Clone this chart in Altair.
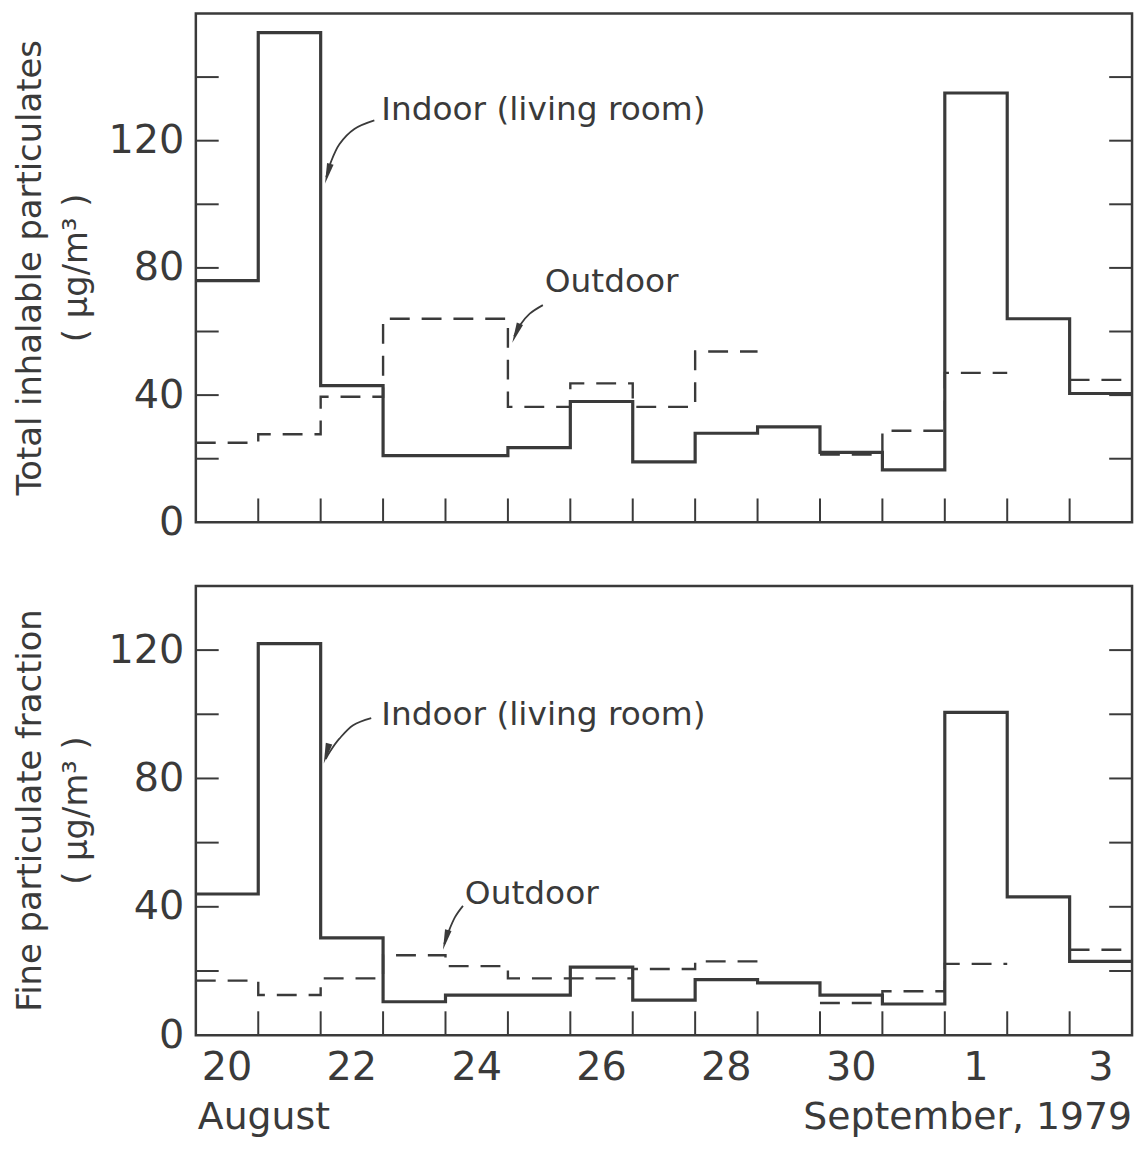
import altair as alt
import pandas as pd

# ---------------- data ----------------
# one sample per day, Aug 20 ... Sep 3, 1979 (15 daily intervals)
DAY_NAMES = ["20", "21", "22", "23", "24", "25", "26", "27", "28", "29", "30", "31", "1", "2", "3"]

TOTAL_INDOOR = [76, 154, 43, 21, 21, 23.5, 38, 19, 28, 30, 22, 16.5, 135, 64, 40.5]
TOTAL_OUTDOOR = [25, 27.7, 39.5, 64, 64, 36.3, 43.7, 36.3, 53.7, None, 21.3, 28.8, 47, None, 44.8]

FINE_INDOOR = [44, 122, 30.3, 10.4, 12.5, 12.5, 21.2, 10.9, 17.3, 16.3, 12.5, 9.7, 100.6, 43.1, 23]
FINE_OUTDOOR = [17, 12.5, 17.7, 24.9, 21.5, 17.7, 17.7, 20.6, 23, None, 10, 13.7, 22.2, None, 26.6]

Y_LABELS = [0, 40, 80, 120]
TOTAL_Y_TICKS = [20, 40, 60, 80, 100, 120, 140]
FINE_Y_TICKS = [20, 40, 60, 80, 100, 120]
TOTAL_Y_MAX = 160
FINE_Y_MAX = 140

# ---------------- styling ----------------
FONT = "DejaVu Sans"
INK = "#3a3a3a"
W = 942
H_TOP = 512
H_BOT = 452
N_DAYS = len(DAY_NAMES)
HEAD = "M0,0 L-0.33,-2 L0.33,-2 Z"  # arrow head, tip at origin, pointing down


def step_rows(values, name):
    rows = []
    run = 0
    k = 0
    n = len(values)
    while k < n:
        if values[k] is None:
            k += 1
            continue
        run += 1
        j = k
        while j < n and values[j] is not None:
            rows.append({"x": j, "y": values[j], "run": f"{name}{run}", "o": len(rows)})
            j += 1
        rows.append({"x": j, "y": values[j - 1], "run": f"{name}{run}", "o": len(rows)})
        k = j
    return pd.DataFrame(rows)


def panel(indoor, outdoor, ymax, h, yticks, titles, notes, arrows, heads, bottom):
    xs = alt.Scale(domain=[0, N_DAYS], nice=False, zero=False)
    ys = alt.Scale(domain=[0, ymax], nice=False, zero=True)
    X = alt.X("x:Q", scale=xs, axis=None)
    Y = alt.Y("y:Q", scale=ys, axis=alt.Axis(
        values=Y_LABELS, ticks=False, domain=False, grid=False,
        labelFont=FONT, labelFontSize=40, labelColor=INK, labelPadding=12, title=None))

    ind = alt.Chart(step_rows(indoor, "in")).mark_line(
        interpolate="step-after", color=INK, strokeWidth=3.2
    ).encode(x=X, y=Y, detail="run:N", order="o:Q")

    out = alt.Chart(step_rows(outdoor, "out")).mark_line(
        interpolate="step-after", color=INK, strokeWidth=2.4, strokeDash=[20, 12]
    ).encode(x=X, y=Y, detail="run:N", order="o:Q")

    ydf = pd.DataFrame({"y": yticks})
    lt = alt.Chart(ydf).mark_rule(color=INK, strokeWidth=2).encode(
        y=Y, x=alt.value(0), x2=alt.value(23))
    rt = alt.Chart(ydf).mark_rule(color=INK, strokeWidth=2).encode(
        y=Y, x=alt.value(W - 23), x2=alt.value(W))
    xt = alt.Chart(pd.DataFrame({"x": list(range(1, N_DAYS))})).mark_rule(color=INK, strokeWidth=2).encode(
        x=X, y=alt.value(h), y2=alt.value(h - 24))

    nt = alt.Chart(pd.DataFrame(notes)).mark_text(
        font=FONT, fontSize=33, align="left", baseline="alphabetic", color=INK
    ).encode(x=X, y=Y, text="t:N")

    ar = alt.Chart(pd.DataFrame(arrows)).mark_line(
        interpolate="cardinal", color=INK, strokeWidth=1.8
    ).encode(x=X, y=Y, detail="id:N", order="o:Q")

    hd = alt.Chart(pd.DataFrame(heads)).mark_point(
        shape=HEAD, filled=True, size=420, color=INK, opacity=1
    ).encode(x=X, y=Y, angle=alt.Angle("a:Q", scale=None))

    t1 = alt.Chart(pd.DataFrame({"t": [titles[0]]})).mark_text(
        font=FONT, fontSize=34, angle=270, align="center", baseline="alphabetic", color=INK
    ).encode(x=alt.value(-156), y=alt.value(h / 2), text="t:N")
    t2 = alt.Chart(pd.DataFrame({"t": [titles[1]]})).mark_text(
        font=FONT, fontSize=34, angle=270, align="center", baseline="alphabetic", color=INK
    ).encode(x=alt.value(-110), y=alt.value(h / 2), text="t:N")

    layers = [ind, out, lt, rt, xt, nt, ar, hd, t1, t2]

    if bottom:
        lab = pd.DataFrame({"x": [k + 0.5 for k in range(0, N_DAYS, 2)],
                            "t": [DAY_NAMES[k] for k in range(0, N_DAYS, 2)]})
        xl = alt.Chart(lab).mark_text(
            font=FONT, fontSize=40, align="center", baseline="alphabetic", color=INK
        ).encode(x=X, y=alt.value(h + 45), text="t:N")
        aug = alt.Chart(pd.DataFrame({"t": ["August"]})).mark_text(
            font=FONT, fontSize=38, align="left", baseline="alphabetic", color=INK
        ).encode(x=alt.value(2), y=alt.value(h + 94), text="t:N")
        sep = alt.Chart(pd.DataFrame({"t": ["September, 1979"]})).mark_text(
            font=FONT, fontSize=38, align="right", baseline="alphabetic", color=INK
        ).encode(x=alt.value(W), y=alt.value(h + 94), text="t:N")
        layers += [xl, aug, sep]

    return alt.layer(*layers).properties(width=W, height=h)


top = panel(
    TOTAL_INDOOR, TOTAL_OUTDOOR, TOTAL_Y_MAX, H_TOP, TOTAL_Y_TICKS,
    ["Total inhalable particulates", "( μg/m³ )"],
    [{"x": 2.97, "y": 126.4, "t": "Indoor  (living room)"},
     {"x": 5.59, "y": 72.5, "t": "Outdoor"}],
    [{"id": "a", "o": 0, "x": 2.86, "y": 126.4}, {"id": "a", "o": 1, "x": 2.54, "y": 123.7},
     {"id": "a", "o": 2, "x": 2.30, "y": 118.9}, {"id": "a", "o": 3, "x": 2.16, "y": 113.1},
     {"id": "a", "o": 4, "x": 2.09, "y": 108.5},
     {"id": "b", "o": 0, "x": 5.56, "y": 68.3}, {"id": "b", "o": 1, "x": 5.35, "y": 65.6},
     {"id": "b", "o": 2, "x": 5.19, "y": 61.9}, {"id": "b", "o": 3, "x": 5.10, "y": 58.5}],
    [{"x": 2.07, "y": 106.5, "a": 15}, {"x": 5.07, "y": 56.5, "a": 22}],
    False)

bot = panel(
    FINE_INDOOR, FINE_OUTDOOR, FINE_Y_MAX, H_BOT, FINE_Y_TICKS,
    ["Fine particulate fraction", "( μg/m³ )"],
    [{"x": 2.97, "y": 96.6, "t": "Indoor (living room)"},
     {"x": 4.31, "y": 40.9, "t": "Outdoor"}],
    [{"id": "a", "o": 0, "x": 2.81, "y": 98.8}, {"id": "a", "o": 1, "x": 2.52, "y": 96.6},
     {"id": "a", "o": 2, "x": 2.30, "y": 92.4}, {"id": "a", "o": 3, "x": 2.16, "y": 88.7},
     {"id": "a", "o": 4, "x": 2.08, "y": 86.0},
     {"id": "b", "o": 0, "x": 4.28, "y": 40.3}, {"id": "b", "o": 1, "x": 4.15, "y": 36.7},
     {"id": "b", "o": 2, "x": 4.04, "y": 31.8}, {"id": "b", "o": 3, "x": 3.98, "y": 28.4}],
    [{"x": 2.05, "y": 84.7, "a": 15}, {"x": 3.96, "y": 26.6, "a": 15}],
    True)

chart = alt.vconcat(top, bot, spacing=40).configure_view(
    stroke=INK, strokeWidth=2.5
).properties(
    padding={"left": 4, "top": 0, "right": 0, "bottom": 0},
    background="white",
)

chart.save("out.html", embed_options={"renderer": "svg", "actions": False})
